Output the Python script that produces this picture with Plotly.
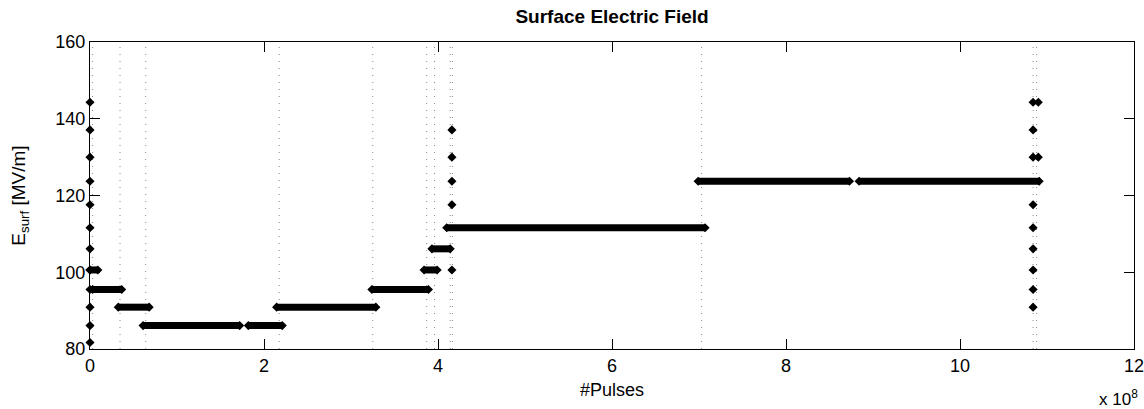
import plotly.graph_objects as go

# ---- data (x in units of 1e8 pulses, y in MV/m) ----
seg_start = [0.03, 0.325, 0.61, 1.82, 2.145, 3.24, 3.84, 3.93, 4.10, 6.99, 8.84, 0.0]
seg_end   = [0.364, 0.68, 1.72, 2.21, 3.286, 3.89, 3.99, 4.14, 7.07, 8.73, 10.91, 0.09]
seg_level = [95.5, 90.9, 86.1, 86.1, 90.9, 95.5, 100.6, 106.1, 111.6, 123.7, 123.7, 100.6]

ramp0_x = [0.0] * 12
ramp0_y = [81.7, 86.1, 90.9, 95.5, 100.6, 106.1, 111.6, 117.6, 123.7, 130.0, 137.1, 144.3]

ramp1_x = [4.16] * 5
ramp1_y = [100.6, 117.6, 123.7, 130.0, 137.1]

ramp2_x = [10.84] * 9 + [10.9, 10.9]
ramp2_y = [90.9, 95.5, 100.6, 106.1, 111.6, 117.6, 130.0, 137.1, 144.3, 130.0, 144.3]

vline_x = [0.03, 0.345, 0.64, 2.175, 3.25, 3.87, 3.96, 4.14, 4.165, 7.03, 10.84, 10.88]

x_ticks = [0, 2, 4, 6, 8, 10, 12]
y_ticks = [80, 100, 120, 140, 160]
SCALE = 1e8

FONT = "Liberation Sans, Arial, Helvetica, sans-serif"

fig = go.Figure()

# dotted vertical markers
vx, vy = [], []
for v in vline_x:
    vx += [v * SCALE, v * SCALE, None]
    vy += [80, 160, None]
fig.add_trace(go.Scatter(x=vx, y=vy, mode="lines",
                         line=dict(color="#8a8a8a", width=1, dash="1px,6px"),
                         hoverinfo="skip", showlegend=False))

# plateaus
sx, sy = [], []
for s, e, l in zip(seg_start, seg_end, seg_level):
    sx += [s * SCALE, e * SCALE, None]
    sy += [l, l, None]
fig.add_trace(go.Scatter(x=sx, y=sy, mode="lines+markers",
                         line=dict(color="black", width=7),
                         marker=dict(symbol="diamond", size=7, color="black"),
                         cliponaxis=False, showlegend=False))

# isolated ramp points
px = [v * SCALE for v in ramp0_x + ramp1_x + ramp2_x]
py = ramp0_y + ramp1_y + ramp2_y
fig.add_trace(go.Scatter(x=px, y=py, mode="markers",
                         marker=dict(symbol="diamond", size=7, color="black"),
                         cliponaxis=False, showlegend=False))

fig.update_layout(
    width=1144, height=409,
    margin=dict(l=90, r=10, t=42, b=60, autoexpand=False),
    paper_bgcolor="white", plot_bgcolor="white",
    font=dict(family=FONT, size=18, color="black"),
    title=dict(text="<b>Surface Electric Field</b>", x=0.535, xanchor="center",
               y=0.96, yanchor="middle", font=dict(size=19, family=FONT)),
    xaxis=dict(range=[0, 12 * SCALE], tickvals=[t * SCALE for t in x_ticks],
               ticktext=[str(t) for t in x_ticks], ticklabeloverflow="allow",
               automargin=False,
               showline=True, mirror="ticks", linecolor="black", linewidth=1,
               ticks="inside", ticklen=10, tickcolor="black", showgrid=False,
               zeroline=False, tickfont=dict(size=18),
               title=dict(text="#Pulses", font=dict(size=18), standoff=8)),
    yaxis=dict(range=[80, 160], tickvals=y_ticks, ticklabeloverflow="allow",
               automargin=False,
               showline=True, mirror="ticks", linecolor="black", linewidth=1,
               ticks="inside", ticklen=10, tickcolor="black", showgrid=False,
               zeroline=False, tickfont=dict(size=18),
               title=dict(text="E<sub>surf</sub> [MV/m]", font=dict(size=19), standoff=24)),
    annotations=[dict(text="x 10<sup>8</sup>", xref="paper", yref="paper",
                      x=1.006, y=-0.16, xanchor="right", yanchor="middle",
                      showarrow=False, font=dict(size=17))],
)

fig.write_html("out.html")
